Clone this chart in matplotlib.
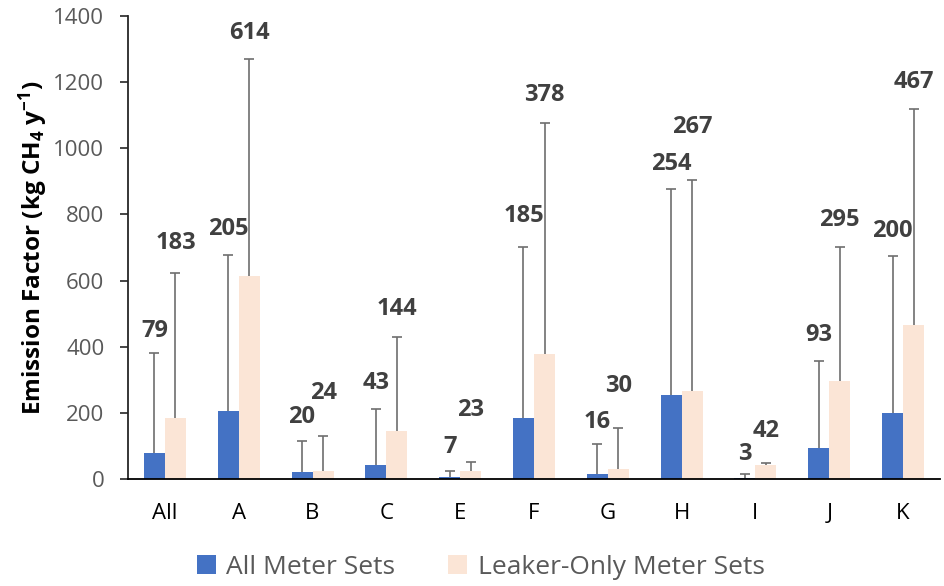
import numpy as np
import matplotlib
matplotlib.use("Agg")
import matplotlib.pyplot as plt

plt.rcParams['font.family'] = ['Open Sans', 'DejaVu Sans']
plt.rcParams['mathtext.default'] = 'regular'

# Utility groups
categories = ["All", "A", "B", "C", "E", "F", "G", "H", "I", "J", "K"]

# Mean emission factors (kg CH4 / y)
all_meter_sets = [79, 205, 20, 43, 7, 185, 16, 254, 3, 93, 200]
leaker_only = [183, 614, 24, 144, 23, 378, 30, 267, 42, 295, 467]

# Upper end of the error bars
all_upper = [380, 677, 115, 211, 24, 703, 106, 877, 14, 357, 675]
leaker_upper = [622, 1269, 130, 430, 52, 1077, 155, 904, 49, 703, 1120]

series_names = ["All Meter Sets", "Leaker-Only Meter Sets"]

# Label offsets above the error caps (points)
all_label_off = [16, 19, 17, 19, 17, 22, 16, 18, 15, 19, 18]
leaker_label_off = [22, 19, 31, 20, 37, 20, 30, 38, 23, 19, 19]

BLUE = "#4472C4"
PEACH = "#FBE5D6"
ERR = "#6E6E6E"
LABEL = "#404040"
TICK = "#595959"

fig = plt.figure(figsize=(9.44, 5.86), dpi=100)
ax = fig.add_axes([128 / 944, 1 - 479 / 586, (940 - 128) / 944, (479 - 16) / 586])

x = np.arange(len(categories))
w = 0.285

def draw(offset, vals, upper, color, offs, name):
    xs = x + offset
    ax.bar(xs, vals, w, color=color, label=name, zorder=2)
    # upper-only error bars with a cap at the top end
    ax.vlines(xs, vals, upper, color=ERR, linewidth=1.2, zorder=3)
    ax.plot(xs, upper, linestyle='none', marker='_', markersize=7,
            markeredgewidth=1.2, color=ERR, zorder=3)
    for xi, v, u, o in zip(xs, vals, upper, offs):
        ax.annotate(f"{v:g}", (xi, u), xytext=(0, o), textcoords='offset points',
                    ha='center', va='center', fontsize=17, fontweight='bold',
                    color=LABEL, zorder=4)

draw(-w / 2, all_meter_sets, all_upper, BLUE, all_label_off, series_names[0])
draw(w / 2, leaker_only, leaker_upper, PEACH, leaker_label_off, series_names[1])

ax.set_xlim(-0.5, len(categories) - 0.5)
ax.set_ylim(0, 1400)
ax.set_yticks(np.arange(0, 1401, 200))
ax.set_xticks(x)
ax.set_xticklabels(categories)

for s in ['top', 'right']:
    ax.spines[s].set_visible(False)
ax.spines['left'].set_color('#262626')
ax.spines['left'].set_linewidth(1.3)
ax.spines['bottom'].set_color('#000000')
ax.spines['bottom'].set_linewidth(1.3)

ax.tick_params(axis='y', length=6, width=1.2, color='#262626', pad=11,
               labelsize=16, labelcolor=TICK)
ax.tick_params(axis='x', length=0, pad=17, labelsize=16, labelcolor='black')

ax.set_ylabel(r"Emission Factor (kg CH$_{4}$ y$^{-1}$)", fontsize=17.5,
              fontweight='bold', color='black')
ax.yaxis.set_label_coords(-0.096, 0.5, transform=ax.transAxes)

fig.legend(loc='center', bbox_to_anchor=(0.509, 1 - 567 / 586), ncol=2,
           frameon=False, fontsize=19, labelcolor=TICK, handlelength=0.72,
           handleheight=0.72, handletextpad=0.4, columnspacing=2.0)

fig.savefig("out.png", dpi=100)
